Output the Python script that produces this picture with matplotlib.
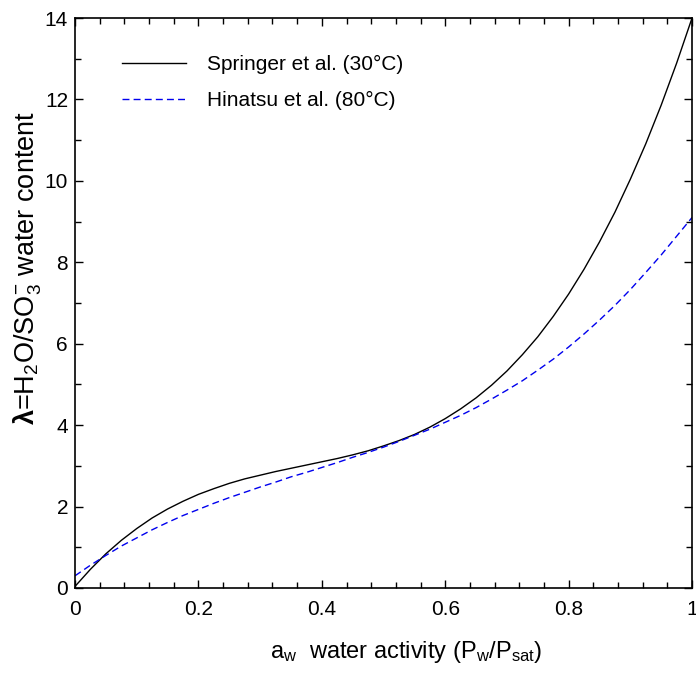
import matplotlib
matplotlib.use("Agg")
import matplotlib.pyplot as plt
from matplotlib.ticker import MultipleLocator

plt.rcParams['font.family'] = ['Liberation Sans', 'DejaVu Sans']
plt.rcParams['mathtext.fontset'] = 'custom'
plt.rcParams['mathtext.rm'] = 'Liberation Sans'
plt.rcParams['mathtext.it'] = 'Liberation Sans:italic'
plt.rcParams['mathtext.bf'] = 'Liberation Sans:bold'

# water activity values
aw = [0.000, 0.025, 0.050, 0.075, 0.100, 0.125, 0.150, 0.175, 0.200, 0.225,
      0.250, 0.275, 0.300, 0.325, 0.350, 0.375, 0.400, 0.425, 0.450, 0.475,
      0.500, 0.525, 0.550, 0.575, 0.600, 0.625, 0.650, 0.675, 0.700, 0.725,
      0.750, 0.775, 0.800, 0.825, 0.850, 0.875, 0.900, 0.925, 0.950, 0.975,
      1.000]
# Springer et al. (30°C)
springer = [0.04, 0.46, 0.84, 1.17, 1.46, 1.72, 1.94, 2.13, 2.30, 2.44,
            2.57, 2.68, 2.77, 2.86, 2.94, 3.02, 3.10, 3.18, 3.27, 3.37,
            3.49, 3.62, 3.77, 3.95, 4.16, 4.40, 4.67, 4.98, 5.33, 5.73,
            6.17, 6.67, 7.22, 7.83, 8.50, 9.23, 10.04, 10.91, 11.86, 12.89,
            14.00]
# Hinatsu et al. (80°C)
hinatsu = [0.30, 0.56, 0.80, 1.03, 1.23, 1.43, 1.61, 1.78, 1.93, 2.08,
           2.22, 2.35, 2.48, 2.60, 2.73, 2.84, 2.96, 3.08, 3.21, 3.33,
           3.46, 3.60, 3.75, 3.90, 4.07, 4.24, 4.43, 4.64, 4.86, 5.09,
           5.35, 5.62, 5.92, 6.24, 6.58, 6.94, 7.33, 7.75, 8.18, 8.64,
           9.10]

fig = plt.figure(figsize=(6.96, 6.75), dpi=100)
ax = fig.add_axes([0.1078, 0.1289, 0.8865, 0.8444])

ax.plot(aw, springer, color='black', lw=1.0, label='Springer et al. (30°C)')
ax.plot(aw, hinatsu, color='#0000ee', lw=1.0, ls=(0, (5, 3)), label='Hinatsu et al. (80°C)')

ax.set_xlim(0, 1)
ax.set_ylim(0, 14)
ax.xaxis.set_major_locator(MultipleLocator(0.2))
ax.xaxis.set_minor_locator(MultipleLocator(0.04))
ax.yaxis.set_major_locator(MultipleLocator(2))
ax.yaxis.set_minor_locator(MultipleLocator(1))
ax.set_xticks([0, 0.2, 0.4, 0.6, 0.8, 1.0])
ax.set_xticklabels(['0', '0.2', '0.4', '0.6', '0.8', '1'])
ax.tick_params(which='both', direction='in', top=True, right=True, width=1.0)
ax.tick_params(which='major', length=6, labelsize=15)
ax.tick_params(axis='y', which='major', pad=5)
ax.tick_params(axis='x', which='major', pad=9)
ax.tick_params(which='minor', length=4)
for s in ax.spines.values():
    s.set_linewidth(1.2)

ax.set_xlabel(r'a$_{\mathregular{w}}$  water activity (P$_{\mathregular{w}}$/P$_{\mathregular{sat}}$)',
              fontsize=17, labelpad=14)
ax.set_ylabel(r'$\mathbf{\lambda}$=H$_{\mathregular{2}}$O/SO$_{\mathregular{3}}^{\mathregular{-}}$ water content',
              fontsize=19.5, labelpad=0.5)
ax.xaxis.label.set_x(0.536)
ax.yaxis.label.set_y(0.561)

ax.legend(loc='upper left', bbox_to_anchor=(0.045, 0.968), frameon=False,
          fontsize=15, handlelength=3.1, handletextpad=1.0, labelspacing=0.8)

fig.savefig('out.png', dpi=100)
